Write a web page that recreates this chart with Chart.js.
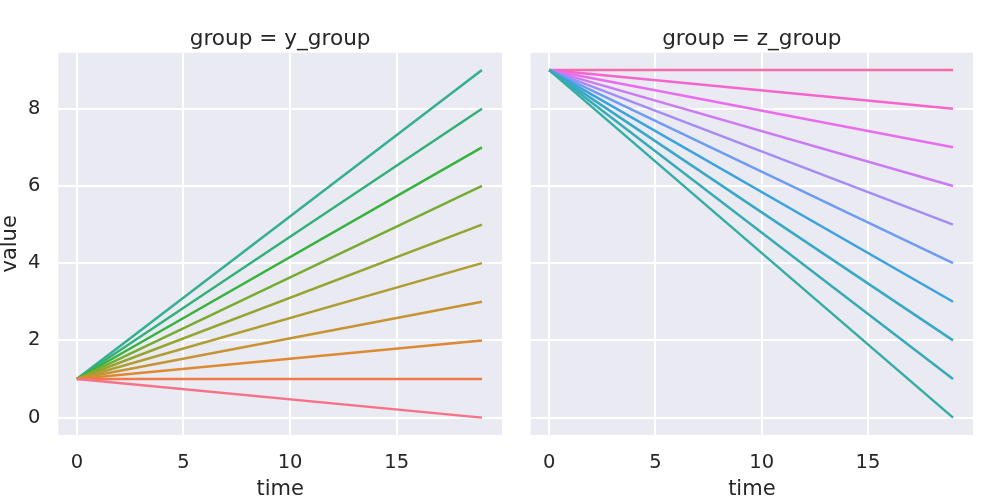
<!DOCTYPE html>
<html>
<head>
<meta charset="utf-8">
<script src="https://cdn.jsdelivr.net/npm/chart.js@4"></script>
<style>
  body { margin: 0; background: #fff; }
  #wrap { position: relative; width: 1000px; height: 500px; }
  canvas { position: absolute; top: 0; }
</style>
</head>
<body>
<div id="wrap">
  <canvas id="leftChart" width="505" height="500" style="left:0"></canvas>
  <canvas id="rightChart" width="495" height="500" style="left:505px"></canvas>
</div>
<script>
// values: each line runs from time 0 to time 19
const timePoints = [0, 19];
const yGroupStart = 1;
const yGroupEnd = [0, 1, 2, 3, 4, 5, 6, 7, 8, 9];
const zGroupStart = 9;
const zGroupEnd = [0, 1, 2, 3, 4, 5, 6, 7, 8, 9];
const xTicks = [0, 5, 10, 15];
const yTicks = [0, 2, 4, 6, 8];

// husl-like palette, 20 hues over both panels
const yGroupColors = ['#f77189', '#ee7a4c', '#dc8932', '#c69432', '#ae9d31',
                      '#95a431', '#77ab31', '#36b23e', '#33b07a', '#35ae91'];
const zGroupColors = ['#36ada4', '#37abb5', '#38a9c5', '#3aa3de', '#6e9bf4',
                      '#a48cf4', '#cc7af4', '#ea6cee', '#f565cc', '#f66ba9'];

const textColor = '#262626';
const fontFamily = '"DejaVu Sans", sans-serif';

const panelBg = {
    id: 'panelBg',
    beforeDraw(chart) {
        const { ctx, chartArea: a } = chart;
        ctx.save();
        ctx.fillStyle = '#eaeaf2';
        ctx.fillRect(a.left, a.top, a.right - a.left, a.bottom - a.top);
        ctx.restore();
    }
};

function buildLines(start, ends, colors) {
    return ends.map((end, i) => ({
        label: String(i),
        data: [{ x: timePoints[0], y: start }, { x: timePoints[1], y: end }],
        borderColor: colors[i],
        backgroundColor: colors[i],
        borderWidth: 2.5,
        pointRadius: 0,
        tension: 0,
        fill: false
    }));
}

function makeChart(id, title, datasets, isLeft) {
    return new Chart(document.getElementById(id), {
        type: 'line',
        data: { datasets: datasets },
        plugins: [panelBg],
        options: {
            responsive: false,
            animation: false,
            layout: {
                padding: isLeft ? { left: 0, right: 3, top: 0, bottom: 0 }
                                : { left: 25.7, right: 27, top: 0, bottom: 0 }
            },
            plugins: {
                legend: { display: false },
                tooltip: { enabled: false },
                title: {
                    display: true,
                    fullSize: false, // centre over the plot area, not the canvas
                    text: title,
                    color: textColor,
                    font: { family: fontFamily, size: 21.6, weight: 'normal' },
                    padding: { top: 26.5, bottom: 0.3 }
                }
            },
            scales: {
                x: {
                    type: 'linear',
                    min: -0.87,
                    max: 19.94,
                    afterBuildTicks: s => { s.ticks = xTicks.map(v => ({ value: v })); },
                    afterFit: s => { s.height = 65; },
                    border: { display: false },
                    grid: { color: '#ffffff', lineWidth: 2, drawTicks: false },
                    ticks: {
                        color: textColor,
                        padding: 16,
                        maxRotation: 0,
                        font: { family: fontFamily, size: 19.5 }
                    },
                    title: {
                        display: true,
                        text: 'time',
                        color: textColor,
                        padding: { top: 0, bottom: -2 },
                        font: { family: fontFamily, size: 21 }
                    }
                },
                y: {
                    type: 'linear',
                    min: -0.45,
                    max: 9.45,
                    afterBuildTicks: s => { s.ticks = yTicks.map(v => ({ value: v })); },
                    afterFit: s => { s.width = isLeft ? 58.3 : 0; },
                    border: { display: false },
                    grid: { color: '#ffffff', lineWidth: 2, drawTicks: false },
                    ticks: {
                        display: isLeft,
                        color: textColor,
                        padding: 18,
                        font: { family: fontFamily, size: 19.5 }
                    },
                    title: {
                        display: isLeft,
                        text: 'value',
                        color: textColor,
                        padding: 0,
                        font: { family: fontFamily, size: 21, lineHeight: 1 }
                    }
                }
            }
        }
    });
}

makeChart('leftChart', 'group = y_group', buildLines(yGroupStart, yGroupEnd, yGroupColors), true);
makeChart('rightChart', 'group = z_group', buildLines(zGroupStart, zGroupEnd, zGroupColors), false);
</script>
</body>
</html>
